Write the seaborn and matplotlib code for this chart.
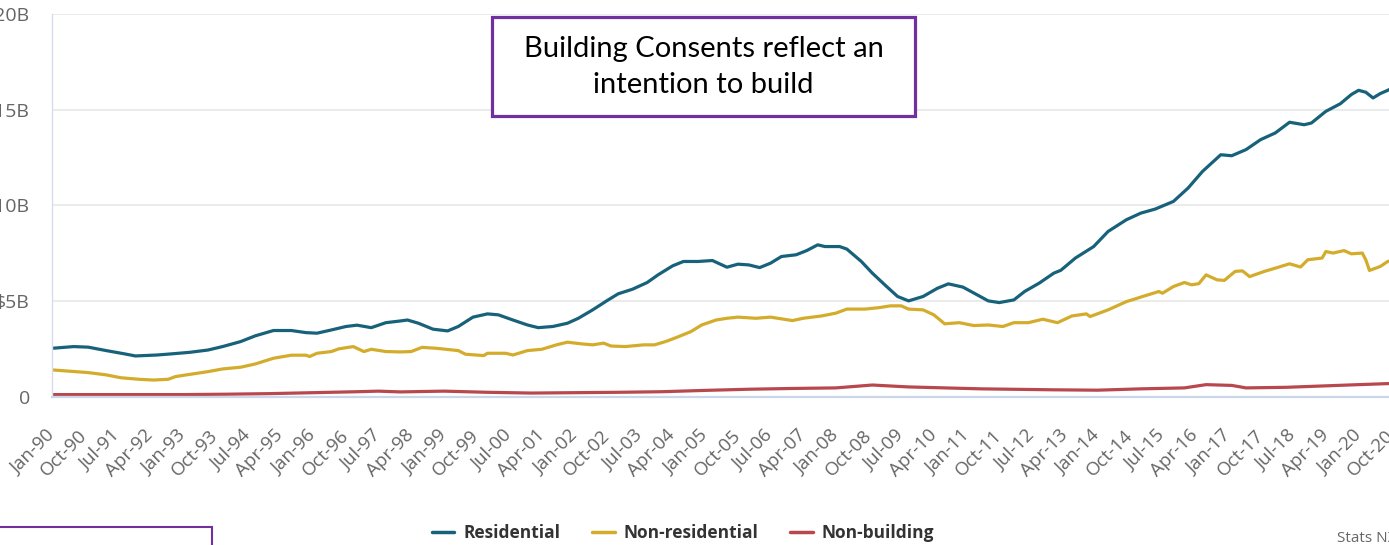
import matplotlib
matplotlib.use("Agg")
import matplotlib.pyplot as plt
import matplotlib.dates as mdates
from matplotlib.patches import Rectangle
import pandas as pd
import seaborn as sns

# ---------------- data (billions NZD, annual totals) ----------------
res_dates = ["1990-01", "1990-07", "1990-11", "1991-04", "1991-09", "1991-12", "1992-06", "1992-10",
             "1993-03", "1993-08", "1993-12", "1994-05", "1994-09", "1995-02", "1995-07", "1995-11",
             "1996-02", "1996-06", "1996-10", "1997-01", "1997-05", "1997-09", "1998-01", "1998-03",
             "1998-06", "1998-10", "1999-02", "1999-05", "1999-09", "2000-01", "2000-04", "2000-08",
             "2000-12", "2001-03", "2001-07", "2001-11", "2002-02", "2002-06", "2002-10", "2003-01",
             "2003-05", "2003-09", "2003-12", "2004-04", "2004-07", "2004-11", "2005-03", "2005-07",
             "2005-10", "2006-01", "2006-04", "2006-07", "2006-10", "2007-02", "2007-05", "2007-08",
             "2007-10", "2008-02", "2008-04", "2008-08", "2008-11", "2009-03", "2009-06", "2009-09",
             "2010-01", "2010-05", "2010-08", "2010-12", "2011-04", "2011-07", "2011-10", "2012-02",
             "2012-05", "2012-09", "2013-01", "2013-03", "2013-07", "2013-12", "2014-04", "2014-09",
             "2015-01", "2015-05", "2015-10", "2016-02", "2016-06", "2016-11", "2017-02", "2017-06",
             "2017-10", "2018-02", "2018-06", "2018-10", "2018-12", "2019-04", "2019-08", "2019-11",
             "2020-01", "2020-03", "2020-05", "2020-07", "2020-09", "2020-10"]
res_values = [2.52, 2.61, 2.58, 2.40, 2.23, 2.12, 2.17, 2.23,
              2.31, 2.43, 2.61, 2.87, 3.17, 3.45, 3.45, 3.34,
              3.31, 3.48, 3.66, 3.73, 3.60, 3.86, 3.95, 4.00,
              3.83, 3.52, 3.43, 3.66, 4.15, 4.32, 4.27, 4.00,
              3.74, 3.60, 3.66, 3.83, 4.09, 4.53, 5.02, 5.37,
              5.61, 5.96, 6.36, 6.83, 7.06, 7.06, 7.11, 6.76,
              6.92, 6.88, 6.74, 6.97, 7.32, 7.41, 7.63, 7.93,
              7.84, 7.84, 7.71, 7.06, 6.45, 5.75, 5.23, 5.00,
              5.23, 5.66, 5.89, 5.72, 5.31, 5.00, 4.91, 5.05,
              5.49, 5.93, 6.45, 6.60, 7.24, 7.84, 8.63, 9.24,
              9.59, 9.80, 10.20, 10.90, 11.77, 12.64, 12.59, 12.91,
              13.43, 13.78, 14.34, 14.21, 14.30, 14.91, 15.31, 15.79,
              16.01, 15.91, 15.61, 15.84, 16.01, 16.10]

nonres_dates = ["1990-01", "1990-04", "1990-11", "1991-04", "1991-08", "1992-01", "1992-05", "1992-09",
                "1992-11", "1993-02", "1993-08", "1993-12", "1994-05", "1994-09", "1995-02", "1995-07",
                "1995-11", "1995-12", "1996-02", "1996-06", "1996-08", "1996-12", "1997-03", "1997-05",
                "1997-09", "1998-01", "1998-04", "1998-07", "1998-11", "1999-05", "1999-07", "1999-12",
                "2000-01", "2000-06", "2000-08", "2000-12", "2001-04", "2001-08", "2001-11", "2002-03",
                "2002-06", "2002-09", "2002-11", "2003-03", "2003-08", "2003-11", "2004-02", "2004-05",
                "2004-09", "2004-12", "2005-04", "2005-07", "2005-10", "2006-03", "2006-07", "2007-01",
                "2007-04", "2007-09", "2008-01", "2008-04", "2008-09", "2009-01", "2009-04", "2009-07",
                "2009-09", "2010-01", "2010-04", "2010-07", "2010-11", "2011-03", "2011-07", "2011-11",
                "2012-02", "2012-06", "2012-10", "2013-02", "2013-06", "2013-10", "2013-11", "2014-04",
                "2014-09", "2015-02", "2015-06", "2015-07", "2015-10", "2016-01", "2016-03", "2016-05",
                "2016-07", "2016-10", "2016-12", "2017-03", "2017-05", "2017-07", "2017-11", "2018-02",
                "2018-06", "2018-09", "2018-11", "2019-03", "2019-04", "2019-06", "2019-09", "2019-11",
                "2020-02", "2020-03", "2020-04", "2020-07", "2020-09", "2020-10"]
nonres_values = [1.39, 1.35, 1.25, 1.13, 0.98, 0.90, 0.86, 0.90,
                 1.04, 1.13, 1.30, 1.44, 1.53, 1.70, 2.00, 2.16,
                 2.16, 2.09, 2.26, 2.35, 2.49, 2.61, 2.35, 2.47,
                 2.35, 2.33, 2.35, 2.57, 2.52, 2.40, 2.21, 2.14,
                 2.26, 2.26, 2.17, 2.40, 2.47, 2.70, 2.84, 2.75,
                 2.70, 2.79, 2.64, 2.61, 2.70, 2.70, 2.87, 3.08,
                 3.39, 3.74, 4.00, 4.09, 4.15, 4.09, 4.15, 3.97,
                 4.09, 4.21, 4.36, 4.57, 4.57, 4.65, 4.74, 4.74,
                 4.57, 4.53, 4.27, 3.80, 3.86, 3.71, 3.74, 3.66,
                 3.86, 3.86, 4.04, 3.86, 4.21, 4.32, 4.18, 4.53,
                 4.96, 5.26, 5.49, 5.40, 5.75, 5.96, 5.84, 5.90,
                 6.36, 6.10, 6.07, 6.54, 6.57, 6.27, 6.54, 6.71,
                 6.94, 6.77, 7.15, 7.24, 7.58, 7.50, 7.63, 7.46,
                 7.50, 7.15, 6.59, 6.80, 7.06, 7.10]

nonbld_dates = ["1990-01", "1991-01", "1992-01", "1993-01", "1994-01", "1995-01", "1996-01", "1997-01",
                "1997-07", "1998-01", "1999-01", "1999-07", "2000-01", "2001-01", "2002-01", "2003-01",
                "2004-01", "2005-01", "2006-01", "2007-01", "2008-01", "2008-11", "2009-09", "2010-07",
                "2011-05", "2012-01", "2013-01", "2014-01", "2015-01", "2016-01", "2016-07", "2017-02",
                "2017-06", "2018-05", "2019-03", "2020-01", "2020-10"]
nonbld_values = [0.10, 0.10, 0.10, 0.10, 0.12, 0.15, 0.20, 0.25,
                 0.28, 0.24, 0.28, 0.25, 0.22, 0.18, 0.20, 0.22,
                 0.25, 0.32, 0.38, 0.42, 0.45, 0.60, 0.50, 0.45,
                 0.40, 0.38, 0.35, 0.33, 0.40, 0.45, 0.62, 0.58,
                 0.45, 0.48, 0.55, 0.62, 0.68]

series_names = ["Residential", "Non-residential", "Non-building"]
series_colors = ["#17627a", "#d4ac2c", "#b8484e"]
ytick_values = [0, 5, 10, 15, 20]
ytick_labels = ["0", "$5B", "$10B", "$15B", "$20B"]
box_text = "Building Consents reflect an\nintention to build"
source_text = "Stats NZ"

# ---------------- build frame ----------------
frames = []
for name, d, v in zip(series_names, [res_dates, nonres_dates, nonbld_dates],
                      [res_values, nonres_values, nonbld_values]):
    frames.append(pd.DataFrame({"date": pd.to_datetime(d), "value": v, "series": name}))
df = pd.concat(frames, ignore_index=True)

# ---------------- plot ----------------
sns.set_style("white")
plt.rcParams["font.family"] = ["Open Sans", "DejaVu Sans"]

W, H = 1389, 545
fig = plt.figure(figsize=(W / 100, H / 100), dpi=100)
ax = fig.add_axes([52 / W, (H - 396.5) / H, 1348 / W, 382.5 / H])

sns.lineplot(data=df, x="date", y="value", hue="series", hue_order=series_names,
             palette=dict(zip(series_names, series_colors)), linewidth=2.3,
             ax=ax, legend=True)
handles, labels = ax.get_legend_handles_labels()
ax.get_legend().remove()

start = pd.Timestamp("1990-01-01")
ax.set_xlim(start, start + pd.Timedelta(days=11304))
ax.set_ylim(0, 20)
ax.set_yticks(ytick_values)
ax.set_yticklabels(ytick_labels)
xticks = pd.date_range("1990-01-01", "2020-10-01", freq="9MS")
ax.set_xticks(xticks)
ax.xaxis.set_major_formatter(mdates.DateFormatter("%b-%y"))
ax.set_xlabel("")
ax.set_ylabel("")

ax.yaxis.grid(True, color="#e6e6e6", linewidth=1.1)
ax.xaxis.grid(False)
ax.set_axisbelow(True)
for s in ["top", "right"]:
    ax.spines[s].set_visible(False)
ax.spines["left"].set_color("#d5dceb")
ax.spines["left"].set_linewidth(1.0)
ax.spines["bottom"].set_color("#ccd6eb")
ax.spines["bottom"].set_linewidth(1.6)

ax.tick_params(axis="y", length=0, pad=16, labelsize=14, labelcolor="#666666")
ax.tick_params(axis="x", length=11, width=1.1, color="#ccd6eb", pad=15,
               labelsize=13.5, labelcolor="#666666")
for lbl in ax.get_xticklabels():
    lbl.set_rotation(45)
    lbl.set_ha("right")
    lbl.set_va("center")
    lbl.set_rotation_mode("anchor")

# legend
leg = fig.legend(handles, labels, loc="center", bbox_to_anchor=(683 / W, (H - 533) / H),
                 ncol=3, frameon=False, handlelength=1.3, handletextpad=0.5,
                 columnspacing=1.85, prop={"weight": "bold", "size": 12.5})
for t in leg.get_texts():
    t.set_color("#333333")
for l in leg.get_lines():
    l.set_linewidth(2.5)

# annotation box
fig.patches.append(Rectangle((492 / W, (H - 116) / H), 423 / W, 99 / H,
                             transform=fig.transFigure, facecolor="white",
                             edgecolor="#7030a0", linewidth=2.3, zorder=5))
fig.text(703.5 / W, (H - 67) / H, box_text, ha="center", va="center",
         fontsize=21, color="black", family=["Lato", "DejaVu Sans"],
         linespacing=1.5, zorder=6)

# partial box bottom-left
fig.patches.append(Rectangle((-5 / W, -20 / H), 217 / W, 38 / H,
                             transform=fig.transFigure, facecolor="white",
                             edgecolor="#7030a0", linewidth=1.5, zorder=5))

fig.text(1337 / W, (H - 538) / H, source_text, ha="left", va="center",
         fontsize=11, color="#666666")

fig.savefig("out.png", dpi=100)
